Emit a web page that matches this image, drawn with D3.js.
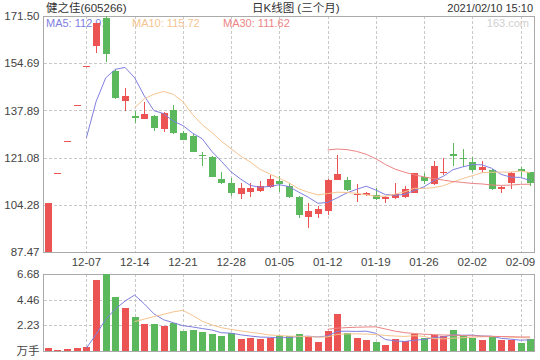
<!DOCTYPE html>
<html><head><meta charset="utf-8">
<script src="https://cdn.jsdelivr.net/npm/d3@7"></script>
<style>
html,body{margin:0;padding:0;background:#fff;}
svg{display:block;font-family:"Liberation Sans",Arial,"Noto Sans CJK SC",sans-serif;}
</style></head>
<body>
<svg id="c" width="540" height="360"></svg>
<script>
const dates = ["12-01","12-02","12-03","12-04","12-07","12-08","12-09","12-10","12-11","12-14","12-15","12-16","12-17","12-18","12-21","12-22","12-23","12-24","12-25","12-28","12-29","12-30","12-31","01-04","01-05","01-06","01-07","01-08","01-11","01-12","01-13","01-14","01-15","01-18","01-19","01-20","01-21","01-22","01-25","01-26","01-27","01-28","01-29","02-01","02-02","02-03","02-04","02-05","02-08","02-09","02-10"];
const open  = [87.47,115.46,127.01,139.71,153.68,160.94,170.8,151.9,141.37,136.0,134.97,135.93,131.2,138.07,130.0,128.82,122.0,121.24,113.5,112.0,108.08,108.8,109.25,110.6,112.6,111.0,107.2,99.76,101.1,101.9,113.2,113.2,107.6,107.9,107.8,106.3,106.7,107.0,108.65,114.1,111.75,115.55,122.3,121.1,119.45,116.7,116.7,109.86,112.0,117.1,115.9];
const high  = [104.96,115.46,127.01,139.71,153.68,169.05,171.50,152.5,145.8,137.5,140.8,136.3,137.46,139.84,130.4,129.5,123.2,121.6,116.1,113.8,112.0,112.0,112.6,114.95,114.6,112.0,107.5,104.9,103.9,113.6,122.06,114.1,111.75,109.0,110.2,107.4,112.0,111.0,115.7,115.75,120.0,121.1,126.4,124.1,121.45,119.7,117.0,110.9,116.1,117.7,116.0];
const low   = [87.47,115.46,127.01,139.71,153.68,158.45,155.1,141.8,137.8,133.3,134.9,130.7,130.35,129.5,127.2,123.0,118.15,114.1,111.8,107.5,106.3,107.0,108.9,110.4,109.0,106.7,99.75,96.0,99.5,100.7,113.0,109.2,105.1,107.3,106.0,104.9,106.4,106.8,108.3,111.75,111.5,114.95,118.15,117.7,115.9,115.75,109.6,108.65,109.86,114.3,110.8];
const close = [104.96,115.46,127.01,139.71,153.68,169.05,157.9,142.2,143.15,135.3,136.64,131.77,136.9,129.78,127.4,123.23,121.7,114.34,112.0,108.65,110.4,110.4,111.1,113.5,111.75,107.0,100.7,101.9,102.75,113.2,115.3,109.4,108.2,108.4,106.3,107.2,108.2,109.86,115.55,112.6,118.15,116.0,121.6,120.45,116.8,117.76,109.86,110.6,115.55,116.4,112.14];
const volume = [0.29,0.12,0.20,0.29,0.37,6.19,6.68,4.69,3.74,2.97,2.36,2.36,2.13,2.45,1.70,1.79,1.67,1.50,1.26,1.52,1.06,1.15,1.06,1.15,1.26,1.26,1.50,1.26,0.80,1.73,3.22,1.58,1.15,0.92,0.80,0.52,1.00,0.89,1.50,1.09,1.35,1.26,1.84,1.30,1.15,0.92,1.21,0.92,0.92,0.72,1.06];
const priceTicks = [87.47,104.28,121.08,137.89,154.69,171.50];
const volTicks = [2.23,4.46,6.68];
const xTickDates = ["12-07","12-14","12-21","12-28","01-05","01-12","01-19","01-26","02-02","02-09"];
const maPeriods = [5,10,30];
const maColors = ["#7f7fe0","#f5c490","#ec8484"];
const titleText = "健之佳(605266)";
const subtitleText = "日K线图 (三个月)";
const timeText = "2021/02/10 15:10";

const RED = "#ec5454", GREEN = "#5cb85c", GRID = "#c8c8c8", FRAME = "#aaaaaa", TXT = "#444";
const L = 43.5, R = 534.5, PT = 16, PB = 252, VT = 274, VB = 351;

const svg = d3.select("#c");
const idx = d3.range(dates.length);
const x = d3.scaleBand().domain(idx).range([43, 535]).paddingInner(0.28).paddingOuter(0.14);
const cx = i => x(i) + x.bandwidth()/2;
const y = d3.scaleLinear().domain([87.47,171.50]).range([PB, PT]);
const yv = d3.scaleLinear().domain([0,6.68]).range([VB, VT]);

function ma(arr, n){ return arr.map((v,i)=> i < n-1 ? null : d3.mean(arr.slice(i-n+1,i+1))); }
const up = i => close[i] >= open[i];

// header texts
svg.append("text").attr("x",46).attr("y",12).attr("font-size",11.5).attr("fill","#333").text(titleText);
svg.append("text").attr("x",252).attr("y",12).attr("font-size",11.5).attr("fill","#333").text(subtitleText);
svg.append("text").attr("x",533).attr("y",12).attr("text-anchor","end").attr("font-size",11).attr("fill","#333").text(timeText);

// grid main
const xTickIdx = xTickDates.map(d=>dates.indexOf(d));
const gGrid = svg.append("g").attr("stroke",GRID).attr("stroke-dasharray","3,2").attr("shape-rendering","crispEdges");
gGrid.selectAll(".hg").data(priceTicks.slice(1,-1)).join("line")
  .attr("x1",L).attr("x2",R).attr("y1",d=>Math.round(y(d))+0.5).attr("y2",d=>Math.round(y(d))+0.5);
gGrid.selectAll(".vg").data(xTickIdx).join("line")
  .attr("x1",d=>Math.round(cx(d))+0.5).attr("x2",d=>Math.round(cx(d))+0.5).attr("y1",PT).attr("y2",PB);
// grid volume
gGrid.selectAll(".hv").data(volTicks.slice(0,-1)).join("line")
  .attr("x1",L).attr("x2",R).attr("y1",d=>Math.round(yv(d))+0.5).attr("y2",d=>Math.round(yv(d))+0.5);
gGrid.selectAll(".vv").data(xTickIdx).join("line")
  .attr("x1",d=>Math.round(cx(d))+0.5).attr("x2",d=>Math.round(cx(d))+0.5).attr("y1",VT).attr("y2",VB);

// legend & watermark (drawn before candles)
const lastMA = maPeriods.map(n=>ma(close,n)[close.length-1]);
const legX = [46,132,223];
maPeriods.forEach((n,k)=>{
  svg.append("text").attr("x",legX[k]).attr("y",27).attr("font-size",11).attr("fill",maColors[k])
    .text(`MA${n}: ${lastMA[k].toFixed(2)}`);
});
svg.append("text").attr("x",529).attr("y",27).attr("text-anchor","end").attr("font-size",11).attr("fill","#cfcfcf").text("163.com");

// frames
svg.append("rect").attr("x",L).attr("y",PT+0.5).attr("width",R-L).attr("height",PB-PT).attr("fill","none").attr("stroke",FRAME).attr("shape-rendering","crispEdges");
svg.append("rect").attr("x",L).attr("y",VT+0.5).attr("width",R-L).attr("height",VB-VT).attr("fill","none").attr("stroke",FRAME).attr("shape-rendering","crispEdges");

// axes
const ya = svg.append("g").attr("transform",`translate(${L},0)`)
  .call(d3.axisLeft(y).tickValues(priceTicks).tickSize(0).tickPadding(4).tickFormat(d=>d.toFixed(2)));
const yva = svg.append("g").attr("transform",`translate(${L},0)`)
  .call(d3.axisLeft(yv).tickValues([0].concat(volTicks)).tickSize(0).tickPadding(4).tickFormat(d=>d===0?"万手":d.toFixed(2)));
const xa = svg.append("g").attr("transform",`translate(0,${PB})`)
  .call(d3.axisBottom(x).tickValues(xTickIdx).tickSize(0).tickPadding(6).tickFormat(i=>dates[i]));
[ya,yva,xa].forEach(g=>{
  g.select(".domain").remove();
  g.selectAll("text").attr("font-size",11.5).attr("fill",TXT).attr("font-family",'"Liberation Sans",Arial,"Noto Sans CJK SC",sans-serif');
});

// candles
const gc = svg.append("g").attr("shape-rendering","crispEdges");
gc.selectAll(".wick").data(idx).join("line")
  .attr("x1",i=>Math.round(cx(i))+0.5).attr("x2",i=>Math.round(cx(i))+0.5)
  .attr("y1",i=>y(high[i])).attr("y2",i=>y(low[i]))
  .attr("stroke",i=>up(i)?RED:GREEN);
gc.selectAll(".body").data(idx).join("rect")
  .attr("x",i=>Math.round(cx(i))-3).attr("width",7)
  .attr("y",i=>y(Math.max(open[i],close[i])))
  .attr("height",i=>Math.max(1, Math.abs(y(open[i])-y(close[i]))))
  .attr("fill",i=>up(i)?RED:GREEN);

// MA lines price
maPeriods.forEach((n,k)=>{
  const m = ma(close,n);
  const line = d3.line().defined(d=>d!==null).x((d,i)=>cx(i)).y(d=>y(d));
  svg.append("path").datum(m).attr("d",line).attr("fill","none").attr("stroke",maColors[k]).attr("stroke-width",1);
});

// volume bars
svg.append("g").attr("shape-rendering","crispEdges").selectAll("rect").data(idx).join("rect")
  .attr("x",i=>Math.round(cx(i))-3).attr("width",7)
  .attr("y",i=>yv(volume[i])).attr("height",i=>VB-yv(volume[i]))
  .attr("fill",i=>up(i)?RED:GREEN);
maPeriods.forEach((n,k)=>{
  const m = ma(volume,n);
  const line = d3.line().defined(d=>d!==null).x((d,i)=>cx(i)).y(d=>yv(d));
  svg.append("path").datum(m).attr("d",line).attr("fill","none").attr("stroke",maColors[k]).attr("stroke-width",1);
});
</script>
</body></html>
